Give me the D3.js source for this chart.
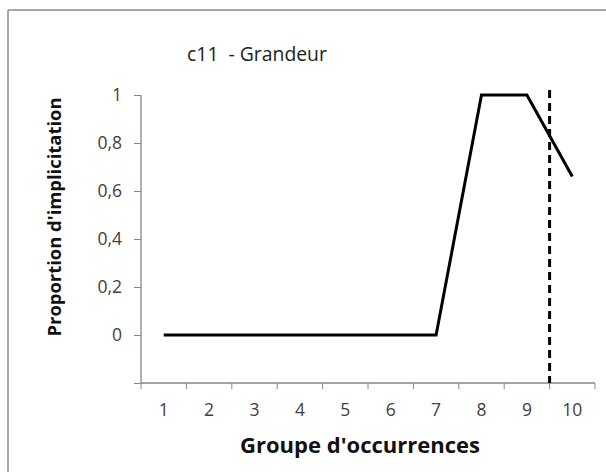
<!DOCTYPE html>
<html>
<head>
<meta charset="utf-8">
<script src="https://cdn.jsdelivr.net/npm/d3@7"></script>
<style>
  body { margin: 0; background: #fff; }
  text { font-family: "Open Sans", Lato, sans-serif; }
</style>
</head>
<body>
<div id="chart"></div>
<script>
// categories and values
var groups = [1, 2, 3, 4, 5, 6, 7, 8, 9, 10];
var proportions = [0, 0, 0, 0, 0, 0, 0, 1, 1, 0.66];
var yTicks = [0, 0.2, 0.4, 0.6, 0.8, 1];
var threshold = 9.5; // dashed marker between groups 9 and 10

var width = 606, height = 472;
var margin = { top: 95, right: 11, bottom: 89, left: 141 };
var w = width - margin.left - margin.right,
    h = height - margin.top - margin.bottom;

var svg = d3.select("#chart").append("svg")
    .attr("width", width)
    .attr("height", height);

// shrink/grow a text to the width seen in the picture
function fit(sel, target) {
    var len = sel.node().getComputedTextLength();
    var fs = parseFloat(sel.style("font-size"));
    sel.style("font-size", (fs * target / len).toFixed(2) + "px");
}

// frame (only top and left show)
svg.append("line").attr("x1", 8).attr("y1", 10).attr("x2", width).attr("y2", 10)
    .attr("stroke", "#8a8a8a").attr("stroke-width", 1.5);
svg.append("line").attr("x1", 8).attr("y1", 10).attr("x2", 8).attr("y2", height)
    .attr("stroke", "#8a8a8a").attr("stroke-width", 1.5);

var g = svg.append("g")
    .attr("transform", "translate(" + margin.left + "," + margin.top + ")");

// x is a linear scale over category positions 0.5 .. 10.5
var x = d3.scaleLinear()
    .domain([0.5, groups.length + 0.5])
    .range([0, w]);

var y = d3.scaleLinear()
    .domain([-0.2, 1])
    .range([h, 0]);

// y axis
var yAxis = d3.axisLeft(y)
    .tickValues([-0.2].concat(yTicks))
    .tickSize(7)
    .tickPadding(12)
    .tickFormat(function(d) {
        if (d < 0) return "";
        return String(+d.toFixed(1)).replace(".", ",");
    });

var ya = g.append("g").attr("class", "y axis").call(yAxis);
ya.select(".domain").remove();
ya.append("line").attr("x1", 0).attr("x2", 0).attr("y1", 0).attr("y2", h)
    .attr("stroke", "#868686").attr("stroke-width", 1.3);
ya.selectAll(".tick line").attr("stroke", "#868686");
ya.selectAll(".tick text")
    .style("font-size", "17.5px")
    .style("font-family", "'Open Sans', sans-serif")
    .attr("fill", "#404040");

// x axis: ticks on the category boundaries, labels in the middle
var boundaries = d3.range(0.5, groups.length + 1, 1);
var xa = g.append("g").attr("class", "x axis")
    .attr("transform", "translate(0," + h + ")");
xa.append("line").attr("x1", 0).attr("x2", w).attr("y1", 0).attr("y2", 0)
    .attr("stroke", "#868686").attr("stroke-width", 1.3);
xa.selectAll(".xtick").data(boundaries).enter().append("line")
    .attr("class", "xtick")
    .attr("x1", function(d) { return x(d); })
    .attr("x2", function(d) { return x(d); })
    .attr("y1", 0).attr("y2", 6)
    .attr("stroke", "#868686");
xa.selectAll(".xlabel").data(groups).enter().append("text")
    .attr("class", "xlabel")
    .attr("x", function(d) { return x(d); })
    .attr("y", 33)
    .attr("text-anchor", "middle")
    .style("font-size", "17.5px")
    .attr("fill", "#404040")
    .text(function(d) { return d; });

// dashed threshold
g.append("line")
    .attr("x1", x(threshold)).attr("x2", x(threshold))
    .attr("y1", y(1) - 5).attr("y2", h)
    .attr("stroke", "#000")
    .attr("stroke-width", 3)
    .style("stroke-dasharray", "8,5");

// the series
var line = d3.line()
    .x(function(d, i) { return x(groups[i]); })
    .y(function(d) { return y(d); });

g.append("path")
    .datum(proportions)
    .attr("d", line)
    .attr("fill", "none")
    .attr("stroke", "#000")
    .attr("stroke-width", 3)
    .attr("stroke-linejoin", "miter");

// titles
var title = svg.append("text")
    .attr("x", 257).attr("y", 61)
    .attr("text-anchor", "middle")
    .style("font-size", "18px")
    .style("white-space", "pre")
    .attr("fill", "#222")
    .text("c11  - Grandeur");
fit(title, 140);

var xTitle = svg.append("text")
    .attr("x", 360).attr("y", 453)
    .attr("text-anchor", "middle")
    .style("font-size", "20px")
    .style("font-weight", "bold")
    .attr("fill", "#111")
    .text("Groupe d'occurrences");
fit(xTitle, 240);

var yTitle = svg.append("text")
    .attr("transform", "translate(61,217) rotate(-90)")
    .attr("text-anchor", "middle")
    .style("font-size", "20px")
    .style("font-weight", "bold")
    .attr("fill", "#111")
    .text("Proportion d'implicitation");
fit(yTitle, 239);
</script>
</body>
</html>
